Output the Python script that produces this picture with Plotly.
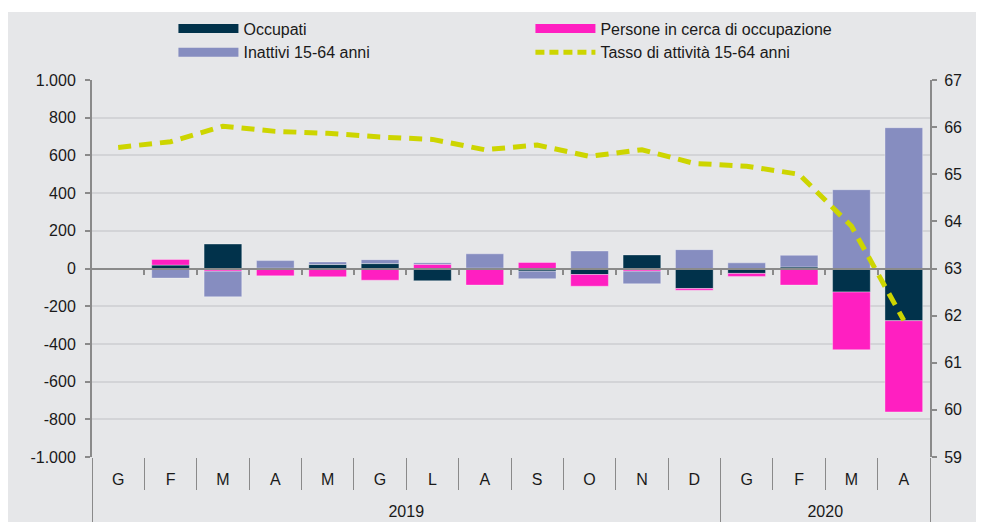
import plotly.graph_objects as go

# ---- data ----
years = ["2019"] * 12 + ["2020"] * 4
months = ["G", "F", "M", "A", "M", "G", "L", "A", "S", "O", "N", "D",
          "G", "F", "M", "A"]
year_labels = ["2019", "2020"]
occupati = [None, 18, 130, 2, 21, 26, -65, 2, -14, -32, 72, -106, -26, 8, -125, -277]
persone = [None, 30, -14, -39, -44, -62, 22, -88, 32, -62, -14, -9, -16, -88, -306, -484]
inattivi = [None, -51, -136, 40, 14, 21, 9, 76, -40, 93, -67, 100, 30, 62, 418, 747]
tasso = [65.57, 65.69, 66.02, 65.91, 65.87, 65.79, 65.74, 65.52, 65.62, 65.38, 65.52,
         65.23, 65.17, 65.00, 63.90, 61.90]

left_ticks = [-1000, -800, -600, -400, -200, 0, 200, 400, 600, 800, 1000]
left_ticktext = ["-1.000", "-800", "-600", "-400", "-200", "0", "200", "400", "600", "800", "1.000"]
right_ticks = [59, 60, 61, 62, 63, 64, 65, 66, 67]

names = ["Occupati", "Persone in cerca di occupazione", "Inattivi 15-64 anni",
         "Tasso di attività 15-64 anni"]

C_OCC = "#01324b"
C_PER = "#ff1fc1"
C_INA = "#868dc0"
C_TAS = "#cdd500"
BG = "#e6e7e9"
GRID = "#d3d4d7"
AX = "#8a8a8a"
FONT = "Liberation Sans, Arial, sans-serif"

# unique category keys (one per month), labelled with the month initial
keys = [f"{m}-{y}-{i}" for i, (m, y) in enumerate(zip(months, years))]
n = len(keys)
bounds = [i + 0.5 for i in range(n - 1)]
# year group centres and edges (in category index units)
year_pos, year_edges = [], [-0.5]
for yl in year_labels:
    idx = [i for i, y in enumerate(years) if y == yl]
    year_pos.append((idx[0] + idx[-1]) / 2)
    year_edges.append(idx[-1] + 0.5)

fig = go.Figure()
bar_line = dict(color="rgba(255,255,255,0.35)", width=1)
for vals, col, nm in [(occupati, C_OCC, names[0]), (persone, C_PER, names[1]),
                      (inattivi, C_INA, names[2])]:
    fig.add_trace(go.Bar(x=keys, y=vals, name=nm, marker=dict(color=col, line=bar_line),
                         showlegend=False))

fig.add_trace(go.Scatter(x=keys, y=tasso, name=names[3], yaxis="y2", mode="lines",
                         line=dict(color=C_TAS, width=5, dash="13px,8px"),
                         showlegend=False))

# legend entries
for col, nm, dash in [(C_OCC, names[0], "solid"), (C_PER, names[1], "solid"),
                      (C_INA, names[2], "solid"), (C_TAS, names[3], "9px,5px")]:
    fig.add_trace(go.Scatter(x=[None], y=[None], mode="lines", name=nm,
                             line=dict(color=col, width=9 if dash == "solid" else 5, dash=dash),
                             showlegend=True))

rng = [-0.5, n - 0.5]
fig.update_layout(
    width=976, height=514,
    paper_bgcolor=BG, plot_bgcolor=BG,
    margin=dict(l=84, r=54, t=72, b=65, autoexpand=False),
    barmode="relative", bargap=0.28,
    font=dict(family=FONT, size=16, color="#1a1a1a"),
    xaxis=dict(type="category", range=rng, tickvals=keys, ticktext=months,
               showgrid=False, showline=False, ticks="", zeroline=False,
               tickfont=dict(size=16), ticklabelstandoff=11),
    xaxis2=dict(overlaying="x", anchor="free", position=0.5, range=rng,
                tickvals=bounds, ticks="outside", ticklen=5, tickwidth=2, tickcolor=AX,
                showticklabels=False, showgrid=False, showline=True, linecolor=AX,
                linewidth=2, zeroline=False),
    xaxis3=dict(overlaying="x", anchor="free", position=0, range=rng,
                tickvals=bounds, ticks="outside", ticklen=32, tickwidth=1, tickcolor=AX,
                showticklabels=False, showgrid=False, showline=False, zeroline=False),
    xaxis4=dict(overlaying="x", anchor="free", position=0, range=rng,
                tickvals=year_pos, ticktext=year_labels, ticks="", showgrid=False,
                showline=False, zeroline=False, tickfont=dict(size=16),
                ticklabelstandoff=43),
    xaxis5=dict(overlaying="x", anchor="free", position=0, range=rng,
                tickvals=year_edges, ticks="outside", ticklen=70, tickwidth=1, tickcolor=AX,
                showticklabels=False, showgrid=False, showline=False, zeroline=False),
    yaxis=dict(range=[-1000, 1000], tickvals=left_ticks, ticktext=left_ticktext,
               showgrid=True, gridcolor=GRID, gridwidth=2, zeroline=False,
               showline=True, linecolor=AX, linewidth=2, ticks="outside", ticklen=5,
               tickcolor=AX, tickwidth=2, ticklabelstandoff=6),
    yaxis2=dict(range=[59, 67], tickvals=right_ticks, overlaying="y", side="right",
                showgrid=False, zeroline=False, showline=True, linecolor=AX, linewidth=2,
                ticks="outside", ticklen=5, tickcolor=AX, tickwidth=2, ticklabelstandoff=4),
    legend=dict(orientation="h", xref="container", yref="container",
                x=0.1695, xanchor="left", y=0.9932, yanchor="top",
                entrywidth=282, entrywidthmode="pixels", bgcolor="rgba(0,0,0,0)",
                font=dict(size=16), traceorder="normal", itemwidth=60),
    shapes=[dict(type="rect", xref="paper", yref="paper", x0=-0.2, x1=1.2,
                 y0=1 + 68 / 377, y1=1.3, fillcolor="white", line=dict(width=0),
                 layer="below")],
)

for ax in ["x2", "x3", "x4", "x5"]:
    fig.add_trace(go.Scatter(x=[None], y=[None], xaxis=ax, showlegend=False,
                             hoverinfo="skip"))

fig.write_html("out.html")
